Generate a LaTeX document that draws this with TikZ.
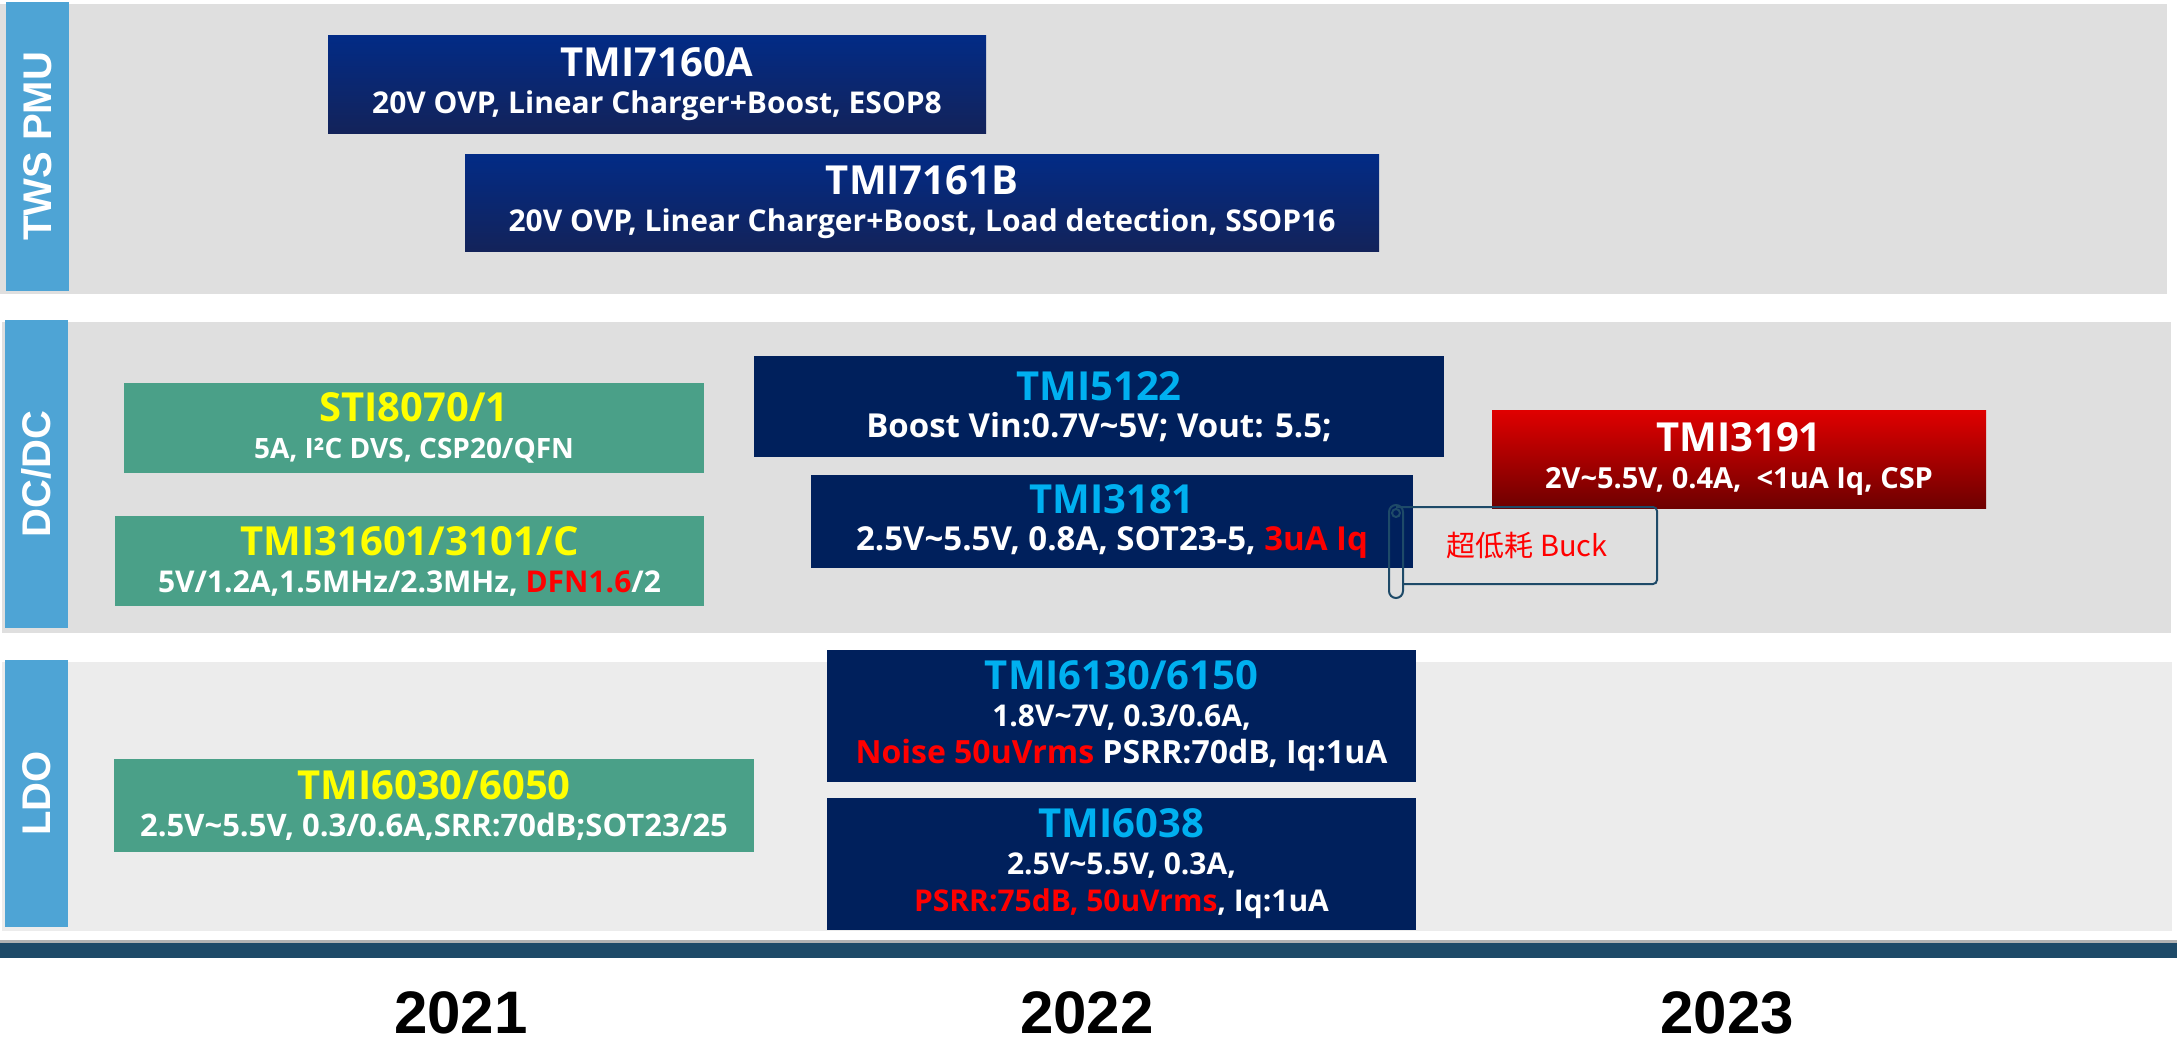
\documentclass[tikz,border=0pt]{standalone}
\usepackage{fontspec}
\setmainfont{Open Sans}
\newfontfamily\cjk{Noto Sans CJK SC}
\newfontfamily\headfont{Liberation Sans}
\usepackage{tikz}
\usetikzlibrary{positioning}

\definecolor{panelgray}{HTML}{DFDFDF}
\definecolor{ldogray}{HTML}{ECECEC}
\definecolor{barblue}{HTML}{4EA4D5}
\definecolor{twstop}{HTML}{022B86}
\definecolor{twsbot}{HTML}{13235A}
\definecolor{navy}{HTML}{00205C}
\definecolor{jade}{HTML}{4AA088}
\definecolor{redtop}{HTML}{E00000}
\definecolor{redbot}{HTML}{6E0000}
\definecolor{chipcyan}{HTML}{00B0F0}
\definecolor{chipyellow}{HTML}{FFFF00}
\definecolor{hotred}{HTML}{FF0000}
\definecolor{railblue}{HTML}{1E4A68}

\newcommand{\chipname}[2][white]{{\color{#1}\fontsize{40}{40}\selectfont #2}}
\newcommand{\hot}[1]{{\color{hotred}#1}}
\newcommand{\tld}{\textasciitilde}
\newcommand{\sub}[2]{{\fontsize{#1}{36}\selectfont #2}}

\begin{document}
\begin{tikzpicture}[x=1pt,y=-1pt,
	catbar/.style={fill=barblue,text=white,rotate=90,inner sep=0pt,minimum height=63pt,
		font=\headfont\bfseries\fontsize{40}{40}\selectfont},
	chip/.style={align=center,text=white,inner sep=0pt,font=\bfseries\fontsize{30}{37}\selectfont},
	twsbox/.style={chip,top color=twstop,bottom color=twsbot},
	navybox/.style={chip,fill=navy},
	greenbox/.style={chip,fill=jade},
	redbox/.style={chip,top color=redtop,bottom color=redbot},
	scroll/.style={draw=railblue,line width=2pt},
	year/.style={font=\headfont\bfseries\fontsize{60}{60}\selectfont}]
	\useasboundingbox (0,0) rectangle (2177,1047);

	% bands
	\fill[panelgray] (0,4) rectangle (2167,294);
	\fill[panelgray] (2,322) rectangle (2171,633);
	\fill[ldogray]   (2,662) rectangle (2172,931);
	\fill[black!30]  (0,940) rectangle (2177,943);
	\fill[railblue]  (0,943) rectangle (2177,958);

	\node[catbar,minimum width=289pt] (tws) at (37.5,146.5) {TWS PMU};
	\node[catbar,minimum width=308pt] (dcdc) at (36.5,474) {DC/DC};
	\node[catbar,minimum width=267pt] (ldo) at (36.5,793.5) {LDO};

	% TWS PMU
	\node[twsbox,minimum width=658pt,minimum height=98pt] (tmi7160a) at (657,84)
		{\chipname{TMI7160A}\\20V OVP, Linear Charger+Boost, ESOP8};
	\node[twsbox,minimum width=914pt,minimum height=97pt] (tmi7161b) at (922,202.5)
		{\chipname{TMI7161B}\\20V OVP, Linear Charger+Boost, Load detection, SSOP16};

	% DC/DC
	\node[greenbox,minimum width=580pt,minimum height=90pt] (sti8070) at (414,428)
		{\chipname[chipyellow]{STI8070/1}\\\sub{28}{5A, I²C DVS, CSP20/QFN}};
	\node[greenbox,minimum width=589pt,minimum height=90pt] (tmi31601) at (409.5,561)
		{\chipname[chipyellow]{TMI31601/3101/C}\\5V/1.2A,1.5MHz/2.3MHz, \hot{DFN1.6}/2};
	\node[navybox,minimum width=690pt,minimum height=101pt] (tmi5122) at (1099,406.5)
		{\chipname[chipcyan]{TMI5122}\\\sub{33}{Boost Vin:0.7V\tld5V; Vout: 5.5;}};
	\node[navybox,minimum width=602pt,minimum height=93pt] (tmi3181) at (1112,521.5)
		{\chipname[chipcyan]{TMI3181}\\\sub{33}{2.5V\tld5.5V, 0.8A, SOT23-5, \hot{3uA Iq}}};
	\node[redbox,minimum width=494pt,minimum height=98pt] (tmi3191) at (1739,459)
		{\chipname{TMI3191}\\\sub{29}{2V\tld5.5V, 0.4A,\ \ <1uA Iq, CSP}};

	% callout
	\draw[scroll,rounded corners=4pt] (1396,507) -- (1657,507) -- (1657,584) -- (1403,584);
	\draw[scroll,rounded corners=7pt] (1389,505) rectangle (1403,598);
	\draw[scroll] (1396,513) circle (4);
	\node[text=hotred,font=\fontsize{29}{29}\selectfont] (lowiq) at (1527,546) {\cjk 超低耗 Buck};

	% LDO
	\node[greenbox,minimum width=640pt,minimum height=93pt] (tmi6030) at (434,805.5)
		{\chipname[chipyellow]{TMI6030/6050}\\\sub{31}{2.5V\tld5.5V, 0.3/0.6A,SRR:70dB;SOT23/25}};
	\node[navybox,minimum width=589pt,minimum height=132pt] (tmi6130) at (1121.5,716)
		{\chipname[chipcyan]{TMI6130/6150}\\1.8V\tld7V, 0.3/0.6A,\\\sub{32}{\hot{Noise 50uVrms} PSRR:70dB, Iq:1uA}};
	\node[navybox,minimum width=589pt,minimum height=132pt] (tmi6038) at (1121.5,864)
		{\chipname[chipcyan]{TMI6038}\\2.5V\tld5.5V, 0.3A,\\\hot{PSRR:75dB, 50uVrms}, Iq:1uA};

	% years
	\node[year] (y2021) at (461,1013) {2021};
	\node[year] (y2022) at (1087,1013) {2022};
	\node[year] (y2023) at (1727,1013) {2023};
\end{tikzpicture}
\end{document}
